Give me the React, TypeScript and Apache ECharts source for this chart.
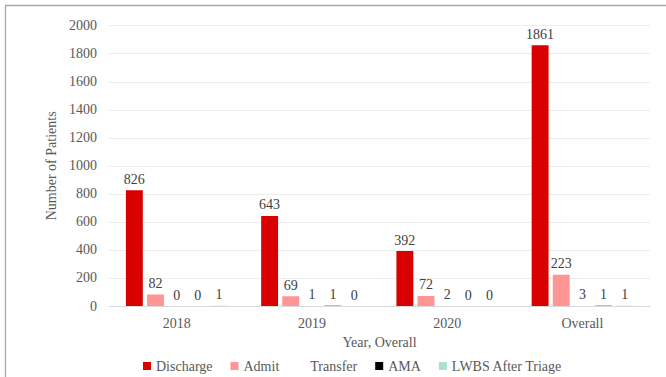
import React, { useEffect, useRef } from "react";
import * as echarts from "echarts";

const categories = ["2018", "2019", "2020", "Overall"];
const discharge = [826, 643, 392, 1861];
const admit = [82, 69, 72, 223];
const transfer = [0, 1, 2, 3];
const ama = [0, 1, 0, 1];
const lwbs = [1, 0, 0, 1];

const seriesNames = ["Discharge", "Admit", "Transfer", "AMA", "LWBS After Triage"];
const seriesData = [discharge, admit, transfer, ama, lwbs];
const seriesColors = ["#d90000", "#ff9595", "#ffffff", "#000000", "#a9e2cb"];

const FONT = "Liberation Serif";

export default function App() {
  const ref = useRef<HTMLDivElement>(null);

  useEffect(() => {
    if (!ref.current) return;
    const chart = echarts.init(ref.current, undefined, { renderer: "svg" });
    chart.setOption({
      animation: false,
      backgroundColor: "#ffffff",
      textStyle: { fontFamily: FONT },
      graphic: [
        {
          type: "rect",
          shape: { x: 5.5, y: 5.5, width: 700, height: 400 },
          style: { fill: "none", stroke: "#a6a6a6", lineWidth: 1.3 },
          silent: true,
        },
      ],
      grid: { left: 109, right: 16, top: 25.7, bottom: 71, containLabel: false },
      legend: {
        data: seriesNames,
        left: 143,
        top: 359,
        padding: 0,
        icon: "rect",
        itemWidth: 8,
        itemHeight: 8,
        itemGap: 18,
        textStyle: { fontFamily: FONT, fontSize: 14, color: "#595959" },
      },
      xAxis: {
        type: "category",
        data: categories,
        name: "Year, Overall",
        nameLocation: "middle",
        nameGap: 29,
        nameTextStyle: { fontFamily: FONT, fontSize: 14, color: "#595959" },
        axisLine: { show: true, lineStyle: { color: "#d9d9d9", width: 1 } },
        axisTick: { show: false },
        axisLabel: { fontFamily: FONT, fontSize: 14, color: "#595959", margin: 10 },
      },
      yAxis: {
        type: "value",
        min: 0,
        max: 2000,
        interval: 200,
        name: "Number of Patients",
        nameLocation: "middle",
        nameGap: 48,
        nameTextStyle: { fontFamily: FONT, fontSize: 14, color: "#595959" },
        axisLine: { show: false },
        axisTick: { show: false },
        splitLine: { lineStyle: { color: "#ececec", width: 1 } },
        axisLabel: {
          fontFamily: FONT,
          fontSize: 14,
          color: "#595959",
          margin: 12,
          formatter: (v: number) => String(v),
        },
      },
      series: seriesNames.map((name, i) => ({
        name,
        type: "bar",
        data: seriesData[i],
        barGap: "25%",
        barCategoryGap: "25%",
        itemStyle: { color: seriesColors[i] },
        label: {
          show: true,
          position: "top",
          distance: 4,
          fontFamily: FONT,
          fontSize: 14,
          color: "#404040",
        },
      })),
    });
    return () => chart.dispose();
  }, []);

  return (
    <div
      ref={ref}
      style={{ position: "fixed", left: 0, top: 0, width: 666, height: 377 }}
    />
  );
}
